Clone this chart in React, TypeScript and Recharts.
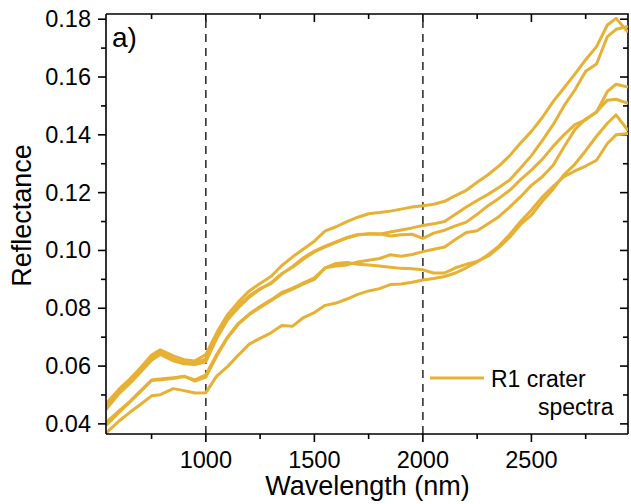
import React from "react";
import { LineChart, Line, XAxis, YAxis, ReferenceLine, Customized } from "recharts";

// ---- data ----
const wavelengths = [
  540, 600, 650, 700, 750, 790, 850, 900, 950, 1000,
  1050, 1100, 1150, 1200, 1250, 1300, 1350, 1400, 1450, 1500,
  1550, 1600, 1650, 1700, 1750, 1800, 1850, 1900, 1950, 2000,
  2050, 2100, 2150, 2200, 2250, 2300, 2350, 2400, 2450, 2500,
  2550, 2600, 2650, 2700, 2750, 2800, 2850, 2890, 2945,
];

const spectrumA = [
  0.047, 0.052, 0.0555, 0.0595, 0.0638, 0.0656, 0.0635, 0.0622, 0.0618, 0.064,
  0.0715, 0.0778, 0.0822, 0.086, 0.0886, 0.091, 0.0948, 0.0978, 0.1005, 0.1032,
  0.1068, 0.1082, 0.11, 0.1115, 0.1127, 0.1131, 0.1136, 0.1143, 0.115, 0.1155,
  0.116, 0.117, 0.119, 0.1208, 0.1236, 0.1262, 0.1292, 0.1328, 0.1372, 0.1412,
  0.146, 0.1515, 0.1562, 0.161, 0.166, 0.1705, 0.178, 0.1803, 0.1755,
];
const spectrumB = [
  0.046, 0.0515, 0.055, 0.059, 0.063, 0.0648, 0.0625, 0.0612, 0.061, 0.0625,
  0.0705, 0.0765, 0.0808, 0.0843, 0.0868, 0.0885, 0.0918, 0.0945, 0.0975, 0.0998,
  0.1015, 0.103, 0.1043, 0.1053, 0.1058, 0.1056, 0.1064, 0.1071, 0.1078, 0.1086,
  0.1092, 0.11, 0.1125, 0.115, 0.1173, 0.1194, 0.1218, 0.1244, 0.1285, 0.1328,
  0.138, 0.1435, 0.15, 0.1555, 0.162, 0.1645, 0.174, 0.1765, 0.1775,
];
const spectrumC = [
  0.0405, 0.0445, 0.0478, 0.0515, 0.0552, 0.0555, 0.056, 0.0564, 0.0552, 0.057,
  0.064, 0.07, 0.0748, 0.078, 0.0806, 0.0829, 0.0855, 0.087, 0.0888, 0.0905,
  0.094, 0.0946, 0.095, 0.096, 0.0966, 0.0972, 0.0985, 0.098, 0.0986, 0.0996,
  0.1004, 0.1012, 0.1038, 0.1062, 0.1068, 0.1092, 0.1117, 0.115, 0.1186, 0.1225,
  0.1255, 0.1295, 0.1358, 0.1418, 0.1455, 0.1478, 0.155, 0.1575, 0.1565,
];
const spectrumD = [
  0.045, 0.0505, 0.054, 0.058, 0.062, 0.064, 0.0618, 0.0608, 0.0605, 0.0615,
  0.0695, 0.076, 0.0802, 0.0838, 0.0866, 0.0888, 0.092, 0.0942, 0.097, 0.0995,
  0.1012, 0.1028, 0.1045, 0.1055, 0.1057, 0.1058, 0.105, 0.1054, 0.1056, 0.1042,
  0.106, 0.107, 0.1085, 0.1098, 0.1125, 0.1155, 0.118, 0.1208, 0.1245, 0.1278,
  0.1315, 0.136, 0.14, 0.1435, 0.1452, 0.148, 0.152, 0.1523, 0.1509,
];
const spectrumE = [
  0.0395, 0.044, 0.0475, 0.0512, 0.055, 0.0553, 0.0557, 0.0565, 0.0548, 0.0562,
  0.0635, 0.0698, 0.0745, 0.0778, 0.0803, 0.0826, 0.085, 0.0866, 0.0884, 0.09,
  0.094, 0.0955, 0.0958, 0.0952, 0.095, 0.0946, 0.0942, 0.0938, 0.0937, 0.0933,
  0.0922, 0.0922, 0.094, 0.0952, 0.0962, 0.098, 0.101, 0.1046, 0.109, 0.1122,
  0.117, 0.1212, 0.1262, 0.1298, 0.1345, 0.1395, 0.144, 0.1469, 0.1415,
];
const spectrumF = [
  0.0368, 0.041, 0.044, 0.0468, 0.0497, 0.0501, 0.0522, 0.0515, 0.0507, 0.0508,
  0.0565, 0.0598, 0.0638, 0.0676, 0.0696, 0.0715, 0.074, 0.0738, 0.0768, 0.0785,
  0.081, 0.0818, 0.0832, 0.0848, 0.086, 0.0868, 0.0882, 0.0884, 0.089, 0.0898,
  0.0903, 0.091, 0.0922, 0.094, 0.096, 0.0985, 0.1015, 0.1055, 0.11, 0.114,
  0.1185, 0.1222, 0.1255, 0.1275, 0.1292, 0.1312, 0.137, 0.14, 0.1405,
];

const seriesKeys = ["A", "B", "C", "D", "E", "F"];
const seriesValues = [spectrumA, spectrumB, spectrumC, spectrumD, spectrumE, spectrumF];

const xDomain = [540, 2945];
const yDomain = [0.0365, 0.1818];
const xTicks = [750, 1000, 1250, 1500, 1750, 2000, 2250, 2500, 2750];
const yTicks = [0.04, 0.05, 0.06, 0.07, 0.08, 0.09, 0.1, 0.11, 0.12, 0.13, 0.14, 0.15, 0.16, 0.17, 0.18];
const dashedMarkers = [1000, 2000];

const xTitle = "Wavelength (nm)";
const yTitle = "Reflectance";
const panelLabel = "a)";
const legendLine1 = "R1 crater";
const legendLine2 = "spectra";

// ---- layout & styling ----
const CHART_W = 631;
const CHART_H = 504;
const MARGIN = { top: 14, right: 3, left: 0, bottom: 0 };
const Y_AXIS_W = 106;
const X_AXIS_H = 70;
const PLOT = {
  x: MARGIN.left + Y_AXIS_W,
  y: MARGIN.top,
  width: CHART_W - MARGIN.left - MARGIN.right - Y_AXIS_W,
  height: CHART_H - MARGIN.top - MARGIN.bottom - X_AXIS_H,
};
const GOLD = "#E6B134";
const FONT = "'Liberation Sans', Arial, Helvetica, sans-serif";
const TICK_FONT = 23.5;
const AXIS = { stroke: "#000", strokeWidth: 1.6 };

const data = wavelengths.map((wl, i) => {
  const row: Record<string, number> = { wl };
  seriesKeys.forEach((k, j) => {
    row[k] = seriesValues[j][i];
  });
  return row;
});

const isMajorX = (v: number) => v % 500 === 0;
const isMajorY = (v: number) => Math.round(v * 100) % 2 === 0;

const BottomTick = (props: any) => {
  const { x, y, payload } = props;
  const major = isMajorX(payload.value);
  return (
    <g>
      <line x1={x} x2={x} y1={y} y2={y + (major ? 8 : 5)} stroke="#000" strokeWidth={1.6} />
      {major && (
        <text x={x} y={y + 34} textAnchor="middle" fontSize={TICK_FONT} fill="#000" fontFamily={FONT}>
          {payload.value}
        </text>
      )}
    </g>
  );
};

const LeftTick = (props: any) => {
  const { x, y, payload } = props;
  const major = isMajorY(payload.value);
  return (
    <g>
      <line x1={x - (major ? 8 : 5)} x2={x} y1={y} y2={y} stroke="#000" strokeWidth={1.6} />
      {major && (
        <text x={x - 15} y={y + 8} textAnchor="end" fontSize={TICK_FONT} fill="#000" fontFamily={FONT}>
          {payload.value.toFixed(2)}
        </text>
      )}
    </g>
  );
};

const sx = (v: number) => PLOT.x + ((v - xDomain[0]) / (xDomain[1] - xDomain[0])) * PLOT.width;
const sy = (v: number) => PLOT.y + ((yDomain[1] - v) / (yDomain[1] - yDomain[0])) * PLOT.height;

const Annotations = () => {
  const right = PLOT.x + PLOT.width;
  const top = PLOT.y;
  return (
    <g fontFamily={FONT}>
      {/* top and right edges of the box with inward mirror ticks */}
      <path
        d={`M${PLOT.x},${top}H${right}V${top + PLOT.height}`}
        fill="none"
        stroke="#000"
        strokeWidth={1.6}
      />
      {xTicks.map((t) => (
        <path key={`t${t}`} d={`M${sx(t)},${top}v${isMajorX(t) ? 8 : 5}`} stroke="#000" strokeWidth={1.6} />
      ))}
      {yTicks.map((t) => (
        <path key={`r${t}`} d={`M${right},${sy(t)}h${isMajorY(t) ? -8 : -5}`} stroke="#000" strokeWidth={1.6} />
      ))}
      <text x={112} y={47} fontSize={28} fill="#000">
        {panelLabel}
      </text>
      <text x={367.5} y={495} fontSize={27} textAnchor="middle" fill="#000">
        {xTitle}
      </text>
      <text x={31} y={215.5} fontSize={27} textAnchor="middle" fill="#000" transform="rotate(-90 31 215.5)">
        {yTitle}
      </text>
      <line x1={430} x2={484} y1={378} y2={378} stroke={GOLD} strokeWidth={2.8} />
      <text x={491} y={387} fontSize={23} fill="#000">
        {legendLine1}
      </text>
      <text x={538} y={415} fontSize={23} fill="#000">
        {legendLine2}
      </text>
    </g>
  );
};

export default function App() {
  return (
    <div style={{ position: "absolute", left: 0, top: 0, width: CHART_W, height: CHART_H, background: "#fff", fontFamily: FONT }}>
      <LineChart width={CHART_W} height={CHART_H} data={data} margin={MARGIN}>
        <XAxis
          dataKey="wl"
          type="number"
          domain={xDomain}
          allowDataOverflow
          ticks={xTicks}
          interval={0}
          height={X_AXIS_H}
          tickSize={0}
          tickMargin={0}
          tickLine={false}
          axisLine={AXIS}
          tick={<BottomTick />}
        />
        <YAxis
          type="number"
          domain={yDomain}
          allowDataOverflow
          ticks={yTicks}
          interval={0}
          width={Y_AXIS_W}
          tickSize={0}
          tickMargin={0}
          tickLine={false}
          axisLine={AXIS}
          tick={<LeftTick />}
        />
        {dashedMarkers.map((m) => (
          <ReferenceLine key={`d${m}`} x={m} stroke="#333" strokeWidth={1.6} strokeDasharray="8 6" />
        ))}
        {seriesKeys.map((k) => (
          <Line
            key={k}
            type="linear"
            dataKey={k}
            stroke={GOLD}
            strokeWidth={3}
            strokeLinejoin="round"
            dot={false}
            activeDot={false}
            isAnimationActive={false}
          />
        ))}
        <Customized component={Annotations} />
      </LineChart>
    </div>
  );
}
